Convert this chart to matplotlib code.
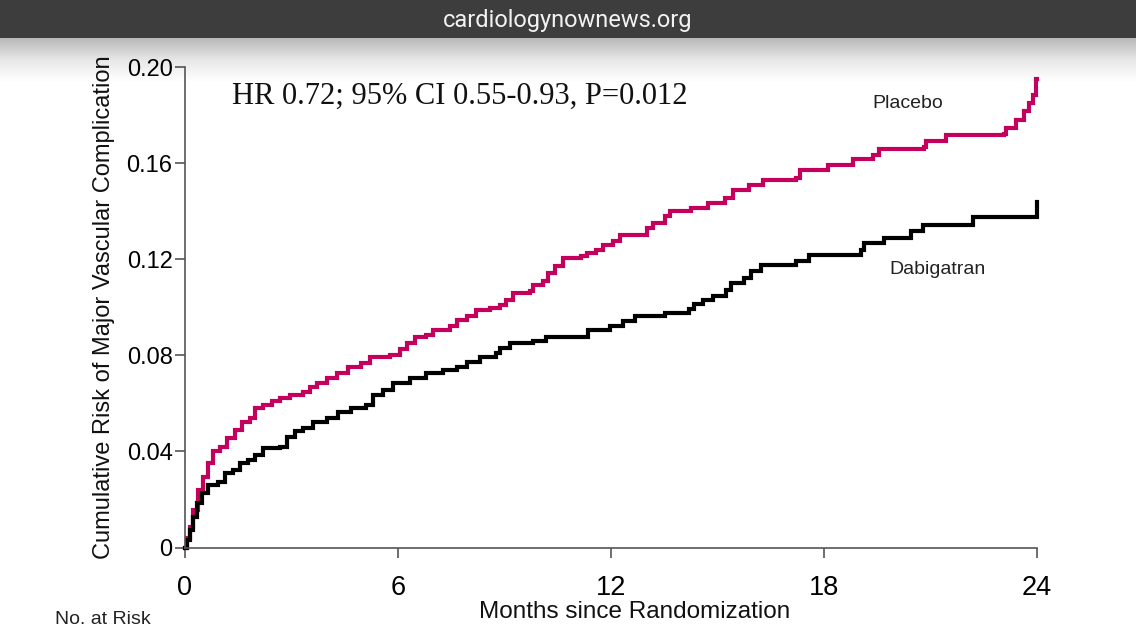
import numpy as np
import matplotlib
matplotlib.use("Agg")
import matplotlib.pyplot as plt
from matplotlib.patches import Rectangle

# ---- data ----
placebo_t = [0, 0.06, 0.14, 0.23, 0.38, 0.52, 0.66, 0.80, 0.99, 1.17, 1.41, 1.60, 1.83, 1.97,
             2.20, 2.44, 2.67, 2.96, 3.33, 3.52, 3.71, 3.99, 4.27, 4.60, 4.97, 5.21,
             5.77, 6.05, 6.24, 6.47, 6.80, 6.99, 7.46, 7.65, 7.93, 8.21, 8.58, 8.87,
             9.05, 9.24, 9.71, 9.80, 10.08, 10.23, 10.41, 10.65, 11.16, 11.31, 11.59,
             11.77, 12.05, 12.24, 13.00, 13.18, 13.51, 13.65, 14.26, 14.73, 15.20,
             15.43, 15.90, 16.28, 17.22, 17.31, 18.11, 18.81, 19.38, 19.56, 20.83,
             20.88, 21.44, 23.08, 23.13, 23.41, 23.64, 23.78, 23.88, 23.97, 24.0]
placebo_v = [0, 0.0040, 0.0085, 0.0156, 0.0240, 0.0295, 0.0351, 0.0400, 0.0420, 0.0455, 0.0490,
             0.0524, 0.0538, 0.0580, 0.0594, 0.0608, 0.0622, 0.0635, 0.0649, 0.0670,
             0.0684, 0.0705, 0.0726, 0.0753, 0.0767, 0.0795, 0.0802, 0.0828, 0.0851,
             0.0878, 0.0885, 0.0906, 0.0920, 0.0948, 0.0962, 0.0990, 0.0997, 0.1010,
             0.1031, 0.1059, 0.1066, 0.1094, 0.1108, 0.1142, 0.1170, 0.1205, 0.1212,
             0.1226, 0.1240, 0.1260, 0.1274, 0.1300, 0.1330, 0.1351, 0.1378, 0.1399,
             0.1413, 0.1434, 0.1455, 0.1490, 0.1510, 0.1528, 0.1538, 0.1573, 0.1594,
             0.1615, 0.1635, 0.1659, 0.1668, 0.1691, 0.1715, 0.1722, 0.1747, 0.1781,
             0.1816, 0.1851, 0.1885, 0.1948, 0.1948]

dabi_t = [0, 0.06, 0.14, 0.23, 0.33, 0.47, 0.66, 0.94, 1.13, 1.36, 1.55, 1.78, 1.97, 2.20,
          2.67, 2.86, 3.10, 3.33, 3.61, 3.99, 4.32, 4.69, 5.11, 5.30, 5.58, 5.86, 6.33,
          6.80, 7.27, 7.65, 7.93, 8.30, 8.77, 8.87, 9.15, 9.80, 10.18, 11.35, 11.96,
          12.34, 12.67, 13.51, 14.21, 14.35, 14.59, 14.87, 15.25, 15.39, 15.76, 15.95,
          16.23, 17.22, 17.59, 19.05, 19.14, 19.70, 20.45, 20.78, 22.19, 24.0]
dabi_v = [0, 0.0033, 0.0073, 0.0128, 0.0184, 0.0226, 0.0260, 0.0274, 0.0309, 0.0323, 0.0351,
          0.0365, 0.0385, 0.0413, 0.0420, 0.0462, 0.0483, 0.0497, 0.0524, 0.0538,
          0.0566, 0.0580, 0.0594, 0.0635, 0.0656, 0.0684, 0.0705, 0.0726, 0.0740,
          0.0753, 0.0774, 0.0795, 0.0809, 0.0830, 0.0851, 0.0858, 0.0878, 0.0906,
          0.0920, 0.0941, 0.0962, 0.0976, 0.0993, 0.1015, 0.1031, 0.1045, 0.1073,
          0.1101, 0.1122, 0.1149, 0.1177, 0.1191, 0.1219, 0.1240, 0.1268, 0.1288,
          0.1316, 0.1344, 0.1375, 0.1440]

x_ticks = [0, 6, 12, 18, 24]
y_ticks = [0, 0.04, 0.08, 0.12, 0.16, 0.20]
y_tick_labels = ["0", "0.04", "0.08", "0.12", "0.16", "0.20"]

W, H = 1136, 640
fig = plt.figure(figsize=(W / 100, H / 100), dpi=100)
fig.patch.set_facecolor("white")

# top banner + gradient
fig.patches.append(Rectangle((0, 1 - 38 / H), 1, 38 / H, transform=fig.transFigure,
                             facecolor="#3d3d3d", edgecolor="none", zorder=0))
gax = fig.add_axes([0, 1 - 82 / H, 1, 44 / H], zorder=0)
grad = np.linspace(0, 1, 100).reshape(-1, 1)
gax.imshow(grad, aspect="auto", cmap=matplotlib.colors.LinearSegmentedColormap.from_list(
    "g", ["#b8b8b8", "#e8e8e8", "#ffffff"]), extent=[0, 1, 0, 1])
gax.axis("off")
fig.text(0.5, 1 - 21 / H, "cardiologynownews.org", ha="center", va="center",
         color="#f2f2f2", fontsize=17, family=["Roboto", "DejaVu Sans"])

ax = fig.add_axes([185 / W, (H - 547.5) / H, 852 / W, 480.5 / H], zorder=2)
ax.patch.set_alpha(0)
ax.step(placebo_t, placebo_v, where="post", color="#c4005c", lw=3.0, clip_on=False,
        solid_joinstyle="miter")
ax.step(dabi_t, dabi_v, where="post", color="#000000", lw=3.0, clip_on=False,
        solid_joinstyle="miter")
ax.set_xlim(0, 24)
ax.set_ylim(0, 0.20)
for s in ["top", "right"]:
    ax.spines[s].set_visible(False)
for s in ["left", "bottom"]:
    ax.spines[s].set_color("#555555")
    ax.spines[s].set_linewidth(1.2)
ax.set_xticks(x_ticks)
ax.set_xticklabels([str(v) for v in x_ticks], fontsize=19.5, family="Liberation Sans")
ax.set_yticks(y_ticks)
ax.set_yticklabels(y_tick_labels, fontsize=17, family="Liberation Sans")
ax.tick_params(axis="both", direction="out", length=7.5, width=1.2, color="#555555")
ax.tick_params(axis="x", pad=12)
ax.tick_params(axis="y", pad=1.5)

ax.text(1.32, 0.188, "HR 0.72; 95% CI 0.55-0.93, P=0.012", fontsize=22,
        family="Liberation Serif", va="center", ha="left", color="#111111")
ax.text(19.36, 0.1848, "Placebo", fontsize=14, family="Liberation Sans",
        va="center", ha="left", color="#222222")
ax.text(19.84, 0.1156, "Dabigatran", fontsize=14, family="Liberation Sans",
        va="center", ha="left", color="#222222")

fig.text(104 / W, (H - 307) / H, "Cumulative Risk of Major Vascular Complication",
         rotation=90, ha="center", va="center", fontsize=17, family="Liberation Sans",
         color="#111111")
fig.text(635 / W, (H - 612) / H, "Months since Randomization", ha="center", va="center",
         fontsize=17.5, family="Liberation Sans", color="#111111")
fig.text(55 / W, (H - 620) / H, "No. at Risk", ha="left", va="center", fontsize=14,
         family="Liberation Sans", color="#222222")

fig.savefig("out.png", dpi=100)
